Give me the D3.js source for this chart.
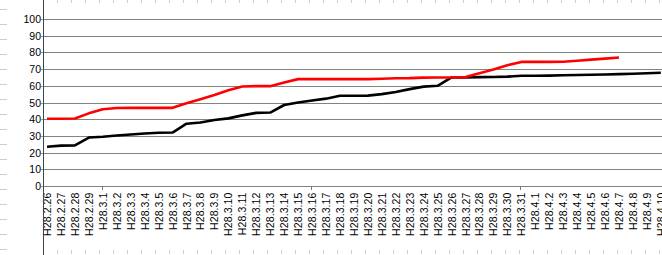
<!DOCTYPE html>
<html><head><meta charset="utf-8">
<script src="https://cdn.jsdelivr.net/npm/d3@7"></script>
<style>html,body{margin:0;padding:0;background:#fff;overflow:hidden}svg{display:block}</style>
</head><body>
<script>
const categories = ["H28.2.26","H28.2.27","H28.2.28","H28.2.29",
 "H28.3.1","H28.3.2","H28.3.3","H28.3.4","H28.3.5","H28.3.6","H28.3.7","H28.3.8","H28.3.9","H28.3.10",
 "H28.3.11","H28.3.12","H28.3.13","H28.3.14","H28.3.15","H28.3.16","H28.3.17","H28.3.18","H28.3.19","H28.3.20",
 "H28.3.21","H28.3.22","H28.3.23","H28.3.24","H28.3.25","H28.3.26","H28.3.27","H28.3.28","H28.3.29","H28.3.30","H28.3.31",
 "H28.4.1","H28.4.2","H28.4.3","H28.4.4","H28.4.5","H28.4.6","H28.4.7","H28.4.8","H28.4.9","H28.4.10"];
const redSeries = [40.3,40.3,40.4,43.5,
 46,46.7,46.8,46.8,46.8,46.8,49.5,52,54.5,57.3,
 59.6,59.8,59.8,62,64,64,64,64,64,64,
 64.2,64.5,64.6,64.9,65,65,65.2,67.5,69.8,72.3,74.3,
 74.3,74.3,74.4,75,75.7,76.3,76.9,null,null,null];
const blackSeries = [23.5,24.2,24.3,29,
 29.5,30.2,30.8,31.4,31.9,32,37.3,38,39.5,40.5,
 42.3,43.8,44,48.5,50,51.2,52.3,54,54,54.1,
 55,56.3,58,59.5,60,65,65,65.2,65.3,65.5,66,
 66,66.1,66.3,66.5,66.6,66.8,67,67.2,67.5,67.8];
const yTicks = [0,10,20,30,40,50,60,70,80,90,100];
const majorTickCats = ["H28.3.1","H28.3.16","H28.3.31"];

const W = 662, H = 255;
const svg = d3.select("body").append("svg").attr("width", W).attr("height", H);
const axisX = 43;
const x = d3.scalePoint().domain(categories).range([47, 47 + 13.95 * (categories.length - 1)]);
const y = d3.scaleLinear().domain([0, 100]).range([186, 19]);

// edge ruler decorations
svg.append("g").selectAll("line").data(d3.range(9, H, 15)).join("line")
  .attr("x1", 0).attr("x2", 7).attr("y1", d => d + 0.5).attr("y2", d => d + 0.5)
  .attr("stroke", "#c3cfe0").attr("stroke-width", 1);
svg.append("g").selectAll("line").data(d3.range(axisX + 14, W, 14)).join("line")
  .attr("x1", d => d + 0.5).attr("x2", d => d + 0.5).attr("y1", 0).attr("y2", 3)
  .attr("stroke", "#cbc8e4");
svg.append("g").selectAll("line").data(d3.range(axisX + 14, W, 14)).join("line")
  .attr("x1", d => d + 0.5).attr("x2", d => d + 0.5).attr("y1", 250).attr("y2", 254)
  .attr("stroke", "#cfcfd8");

// gridlines
svg.append("g").selectAll("line").data(yTicks).join("line")
  .attr("x1", axisX).attr("x2", W)
  .attr("y1", d => Math.round(y(d)) + 0.5).attr("y2", d => Math.round(y(d)) + 0.5)
  .attr("stroke", "#7d877d").attr("stroke-width", 1);

// y axis ticks and labels
svg.append("g").selectAll("line").data(yTicks).join("line")
  .attr("x1", axisX - 2).attr("x2", axisX)
  .attr("y1", d => Math.round(y(d)) + 0.5).attr("y2", d => Math.round(y(d)) + 0.5)
  .attr("stroke", "#5aaed6");
svg.append("g").selectAll("text").data(yTicks).join("text")
  .attr("x", axisX - 2).attr("y", d => y(d) + 4)
  .attr("text-anchor", "end")
  .attr("font-family", "Liberation Sans, Arial, sans-serif").attr("font-size", "10.5px")
  .attr("fill", "#000").text(d => d);

// x major ticks
svg.append("g").selectAll("line").data(majorTickCats).join("line")
  .attr("x1", d => Math.round(x(d)) - 0.5).attr("x2", d => Math.round(x(d)) - 0.5)
  .attr("y1", 186).attr("y2", 190).attr("stroke", "#777");

// x labels
svg.append("g").selectAll("text").data(categories).join("text")
  .attr("transform", d => `translate(${x(d) + 4},192.5) rotate(-90)`)
  .attr("text-anchor", "end")
  .attr("font-family", "Liberation Sans, Arial, sans-serif").attr("font-size", "10.5px")
  .attr("letter-spacing", "0.1px")
  .attr("fill", "#000").text(d => d);

// y axis line
svg.append("line").attr("x1", axisX + 0.5).attr("x2", axisX + 0.5).attr("y1", 0).attr("y2", H)
  .attr("stroke", "#444").attr("stroke-width", 1);

// series lines
const line = d3.line().defined(d => d.v != null).x(d => x(d.c)).y(d => y(d.v));
function draw(vals, color) {
  svg.append("path")
    .datum(categories.map((c, i) => ({c, v: vals[i]})))
    .attr("d", line).attr("fill", "none").attr("stroke", color)
    .attr("stroke-width", 2.6).attr("stroke-linejoin", "round");
}
draw(blackSeries, "#000");
draw(redSeries, "#ff0000");
</script>
</body></html>
